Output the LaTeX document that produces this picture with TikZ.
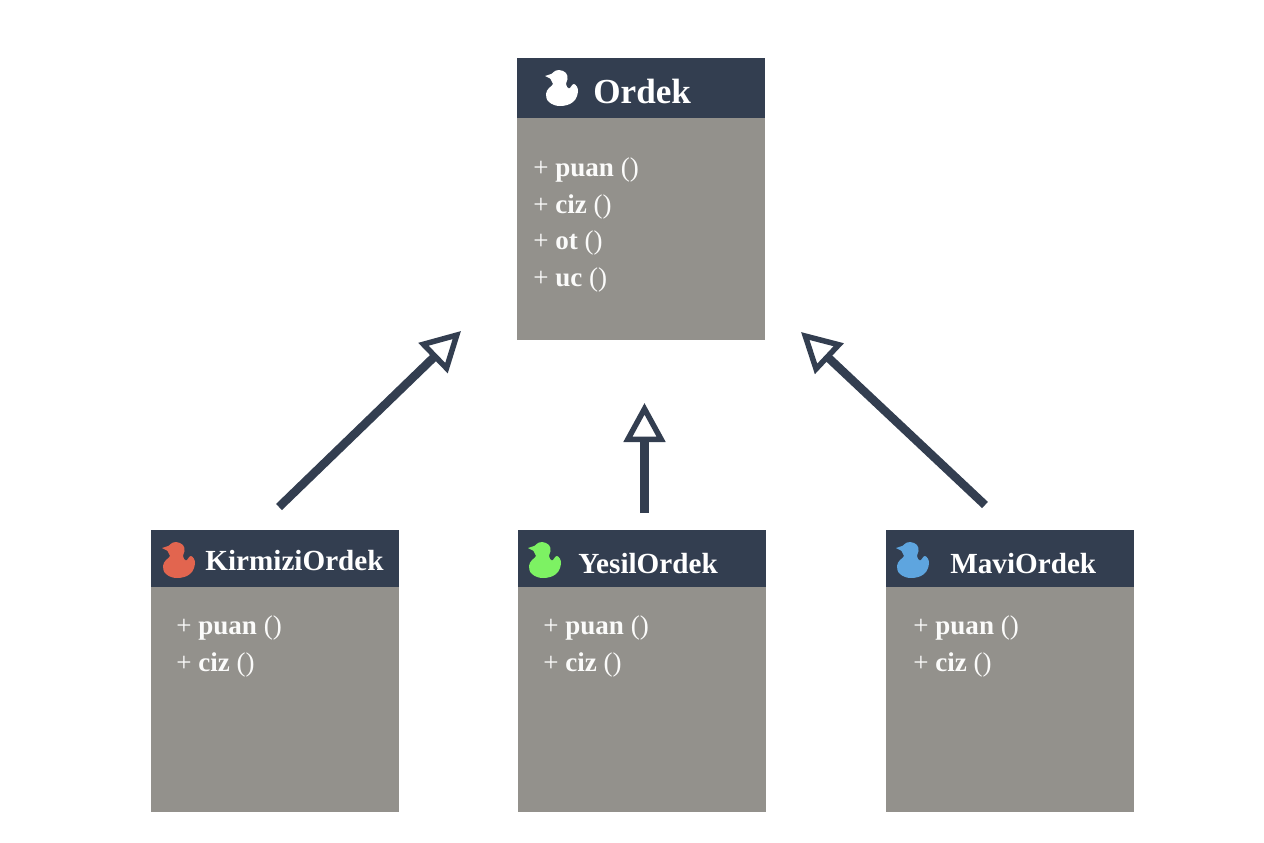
\documentclass[tikz,border=0pt]{standalone}
\usepackage{fontspec}
\setmainfont{Liberation Serif}
\usetikzlibrary{arrows.meta,positioning}
\definecolor{headcol}{HTML}{333E50}
\definecolor{bodycol}{HTML}{93918C}
\definecolor{kirmizicol}{HTML}{E2654F}
\definecolor{yesilcol}{HTML}{7DF263}
\definecolor{mavicol}{HTML}{5EA5DF}
\newcommand{\plusop}{\textnormal{+}}
\newcommand{\parens}{\textnormal{()}}
\tikzset{
  headbox/.style={fill=headcol,anchor=north west,minimum width=248*0.02cm,minimum height=#1*0.02cm,inner sep=0pt,outer sep=0pt},
  bodybox/.style={fill=bodycol,below=0pt of #1,minimum width=248*0.02cm,inner sep=0pt,outer sep=0pt},
  bigtitle/.style={anchor=base west,text=white,inner sep=0pt,font=\fontsize{20}{24}\selectfont\bfseries},
  smalltitle/.style={anchor=base west,text=white,inner sep=0pt,font=\fontsize{16.6}{20}\selectfont\bfseries},
  rows/.style={anchor=north west,text=white!96!bodycol,inner sep=0pt,align=left,font=\fontsize{15.4}{21}\selectfont\bfseries},
  inherit/.style={draw=headcol,line width=0.17cm,-{Triangle[open,fill=white,length=0.78cm,width=0.82cm,line width=0.11cm]}},
  pics/duck/.style={code={
    \fill[#1] plot[smooth cycle,tension=0.7] coordinates {(14,0) (21,3) (22.5,9) (21,14) (24,18.5) (29,14) (33,21) (28,32) (15,36) (4,32) (1,24) (4,18) (8,14) (5,8) (8,2.5)};
    \fill[#1] (12,2) -- (0,6) -- (12,12) -- cycle;
  }}
}
\begin{document}
\begin{tikzpicture}[x=0.02cm,y=-0.02cm]
  \useasboundingbox (0,0) rectangle (1264,842);
  % base class
  \node[headbox=60] (ordekHead) at (517,58) {};
  \node[bodybox=ordekHead,minimum height=222*0.02cm] (ordekBody) {};
  \pic at (545,70) {duck=white};
  \node[bigtitle] (ordekTitle) at (593,103) {Ordek};
  \node[rows] (ordekRows) at (533,157) {\plusop{} puan \parens\\\plusop{} ciz \parens\\\plusop{} ot \parens\\\plusop{} uc \parens};
  % subclasses
  \node[headbox=57] (kirmiziHead) at (151,530) {};
  \node[bodybox=kirmiziHead,minimum height=225*0.02cm] (kirmiziBody) {};
  \pic at (162,542) {duck=kirmizicol};
  \node[smalltitle] (kirmiziTitle) at (205,570) {KirmiziOrdek};
  \node[rows] (kirmiziRows) at (176,615) {\plusop{} puan \parens\\\plusop{} ciz \parens};

  \node[headbox=57] (yesilHead) at (518,530) {};
  \node[bodybox=yesilHead,minimum height=225*0.02cm] (yesilBody) {};
  \pic at (528,542) {duck=yesilcol};
  \node[smalltitle] (yesilTitle) at (578,573) {YesilOrdek};
  \node[rows] (yesilRows) at (543,615) {\plusop{} puan \parens\\\plusop{} ciz \parens};

  \node[headbox=57] (maviHead) at (886,530) {};
  \node[bodybox=maviHead,minimum height=225*0.02cm] (maviBody) {};
  \pic at (896,542) {duck=mavicol};
  \node[smalltitle] (maviTitle) at (950,573) {MaviOrdek};
  \node[rows] (maviRows) at (913,615) {\plusop{} puan \parens\\\plusop{} ciz \parens};
  % arrows
  \coordinate (kirmiziFrom) at (279,507);
  \coordinate (kirmiziTo) at (461,331);
  \coordinate (yesilFrom) at (644.5,513);
  \coordinate (yesilTo) at (644.5,403);
  \coordinate (maviFrom) at (985,505);
  \coordinate (maviTo) at (801,332);
  \draw[inherit] (kirmiziFrom) -- (kirmiziTo);
  \draw[inherit] (yesilFrom) -- (yesilTo);
  \draw[inherit] (maviFrom) -- (maviTo);
\end{tikzpicture}
\end{document}
